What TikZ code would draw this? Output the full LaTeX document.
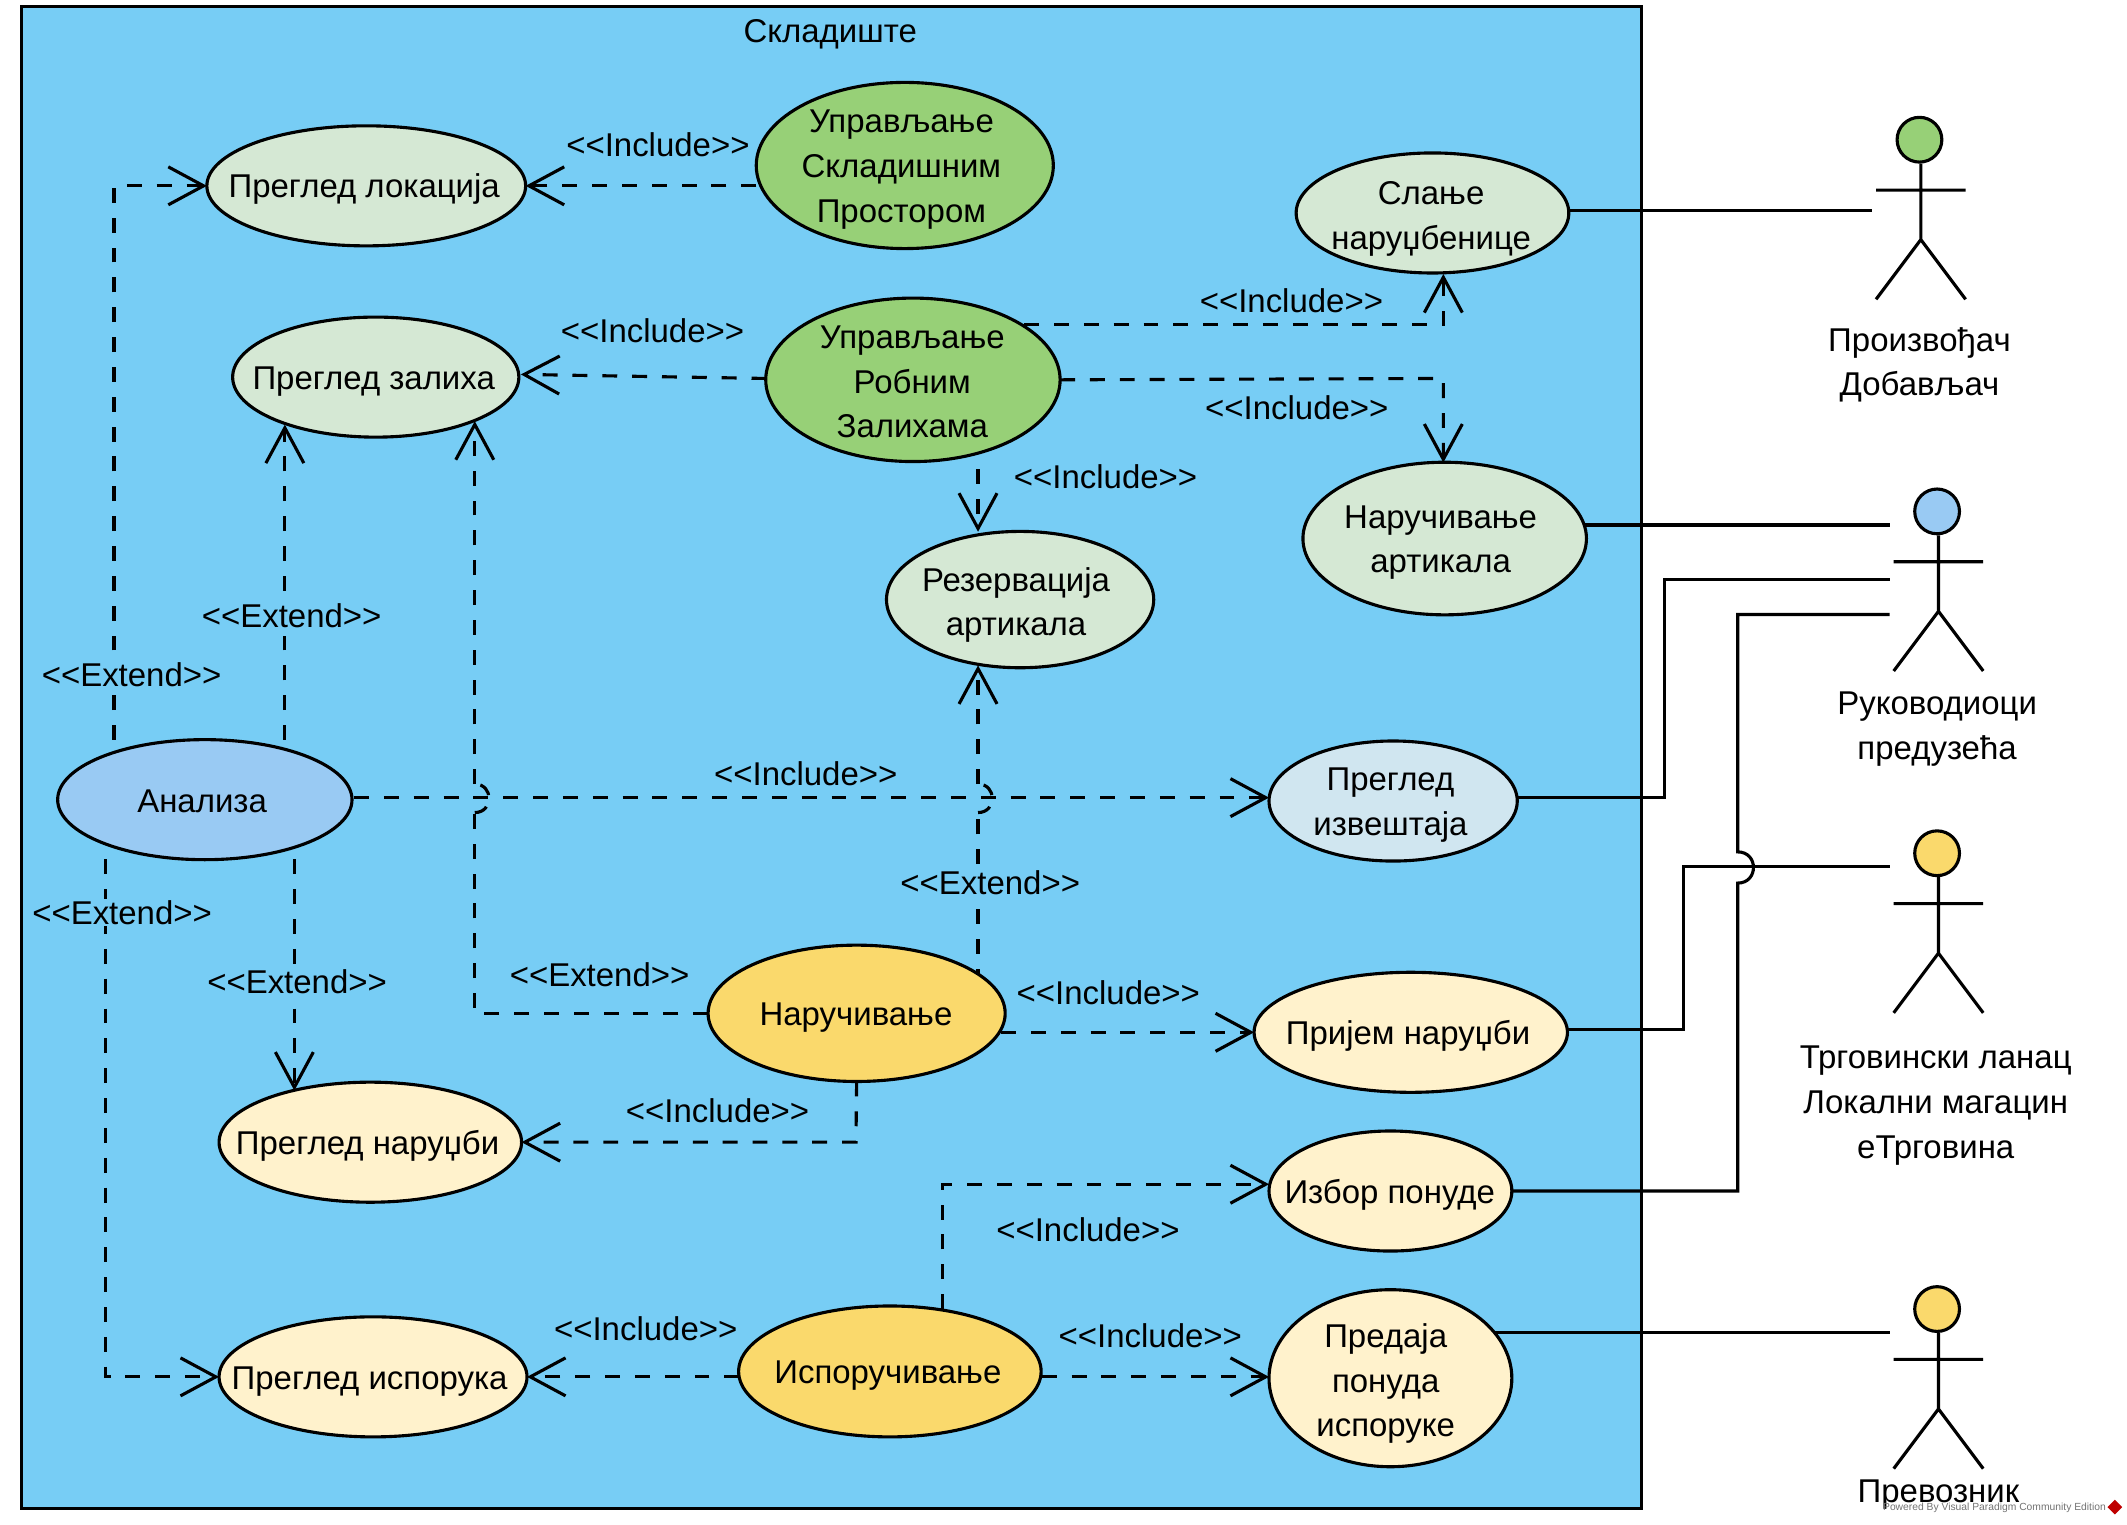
\documentclass[tikz,border=0pt]{standalone}
\usepackage{fontspec}
\setmainfont{Liberation Sans}
\usetikzlibrary{arrows.meta,shapes.geometric,calc}
\pgfdeclarelayer{back}
\pgfdeclarelayer{conn}
\pgfsetlayers{back,conn,main}
\definecolor{contbg}{HTML}{77CDF5}
\definecolor{cgreenL}{HTML}{D5E8D4}
\definecolor{cgreen}{HTML}{97D077}
\definecolor{cblue}{HTML}{99CAF3}
\definecolor{cblueL}{HTML}{D0E6F0}
\definecolor{cyel}{HTML}{FAD96C}
\definecolor{ccream}{HTML}{FFF2CC}
\tikzset{
  x=1pt,y=-1pt,
  base/.style={line width=2.3pt,black},
  dash1/.style={dash pattern=on 11pt off 11pt},
  dep/.style={base,dash1,-{Straight Barb[length=26pt,width=28pt,line width=2.3pt]}},
  depn/.style={base,dash1},
  jump/.style={base,dash pattern=on 10pt off 9pt on 10pt off 9pt},
  assoc/.style={base},
  ucshape/.style={draw=black,line width=2.3pt,ellipse,inner sep=0pt,outer sep=0pt},
  uctext/.style={font=\fontsize{24.3}{33}\selectfont,align=center,inner sep=0pt,text=black},
  lab/.style={font=\fontsize{24.3}{30}\selectfont,fill=contbg,inner sep=1pt,text=black,yshift=-0.7pt},
  head/.style={draw=black,line width=2.3pt,circle,inner sep=0pt,minimum size=33pt},
  wm/.style={font=\fontsize{7.6}{9}\selectfont,text=black!55,inner sep=0pt},
}
\newcommand{\usecase}[9]{%
  \node[ucshape,fill=#6,minimum width=#4*2pt-1pt,minimum height=#5*2pt-1.5pt] (#1) at (#2,#3) {};
  \node[uctext] (#1t) at (#7,#8) {#9};}
\newcommand{\stickman}[4]{% name, x (head), y (head), colour
  \node[head,fill=#4] (#1) at (#2,#3) {};
  \draw[assoc] (#1.south) ++(1,0) coordinate (#1n) -- ++(0,56) coordinate (#1h)
     -- ++(-33,44) (#1h) -- ++(33,44)
     (#1n) ++(-33,19.5) -- ++(66,0);}
\newcommand{\Inc}{<{}<Include>{}>}
\newcommand{\Ext}{<{}<Extend>{}>}
\begin{document}
\begin{tikzpicture}
\useasboundingbox (0,0) rectangle (1568,1123.5);
\begin{pgfonlayer}{back}
\node[draw=black,line width=2.3pt,fill=contbg,inner sep=0pt,minimum width=1194pt,minimum height=1107pt] (cont) at (613,558.5) {};
\end{pgfonlayer}
\node[uctext] (ctitle) at (612,25) {Складиште};

% use cases
\usecase{lok}{270}{137}{118}{45}{cgreenL}{268.5}{139}{Преглед локација}
\usecase{ups}{667}{122}{110}{62}{cgreen}{664.5}{125}{Управљање\\Складишним\\Простором}
\usecase{sla}{1056}{157}{101}{45}{cgreenL}{1055}{161.5}{Слање\\наруџбенице}
\usecase{zal}{277}{278}{106}{45}{cgreenL}{275.5}{281}{Преглед залиха}
\usecase{upr}{673}{280}{109}{61}{cgreen}{672.5}{281.5}{Управљање\\Робним\\Залихама}
\usecase{nar}{1065}{397}{105}{57}{cgreenL}{1062}{400}{Наручивање\\артикала}
\usecase{rez}{752}{442}{99}{51}{cgreenL}{749}{446}{Резервација\\артикала}
\usecase{ana}{151}{589.5}{109}{45}{cblue}{149}{591}{Анализа}
\usecase{izv}{1027}{590.5}{92}{45}{cblueL}{1025}{593.5}{Преглед\\извештаја}
\usecase{nrc}{631.5}{747}{110}{51}{cyel}{631}{750}{Наручивање}
\usecase{pri}{1040}{761}{116}{45}{ccream}{1038}{763.5}{Пријем наруџби}
\usecase{prn}{273}{842}{112}{45}{ccream}{271}{845}{Преглед наруџби}
\usecase{izb}{1025}{878}{90}{45}{ccream}{1024.5}{881}{Избор понуде}
\usecase{pis}{275}{1015}{114}{45}{ccream}{272.5}{1018.5}{Преглед испорука}
\usecase{isp}{656}{1011}{112}{49}{cyel}{654.5}{1014}{Испоручивање}
\usecase{pre}{1025}{1016}{90}{66}{ccream}{1021.5}{1020}{Предаја\\понуда\\испоруке}

% actors
\stickman{a1}{1415}{103}{cgreen}
\stickman{a2}{1428}{377}{cblue}
\stickman{a3}{1428}{629}{cyel}
\stickman{a4}{1428}{965}{cyel}
\node[uctext] (a1t) at (1415,269) {Произвођач\\Добављач};
\node[uctext] (a2t) at (1428,537.5) {Руководиоци\\предузећа};
\node[uctext] (a3t) at (1427,815) {Трговински ланац\\Локални магацин\\еТрговина};
\node[uctext] (a4t) at (1429,1102) {Превозник};

% routing coordinates
\coordinate (k1) at (84,137);
\coordinate (k2) at (210,313);
\coordinate (k3) at (217,804);
\coordinate (k4) at (78,1015);
\coordinate (k5s) at (755,239);
\coordinate (k5) at (1064,239);
\coordinate (k5t) at (1064,202);
\coordinate (k6) at (1064,279);
\coordinate (k6t) at (1064,341);
\coordinate (k7) at (721,392);
\coordinate (k8t) at (721,490.5);
\coordinate (k8a) at (721,599);
\coordinate (k8b) at (721,578);
\coordinate (k9) at (350,747);
\coordinate (k9a) at (350,599);
\coordinate (k9b) at (350,578);
\coordinate (k9t) at (350,310.5);
\coordinate (k10) at (261,588);
\coordinate (k13) at (738,761);
\coordinate (k14) at (631,842);
\coordinate (k15) at (695,873);
\coordinate (k15s) at (695,965);
\coordinate (k16) at (545,1015);
\coordinate (k17) at (768,1015);
\coordinate (k4s) at (565,279);
\coordinate (k4t) at (384,276);
\coordinate (p1) at (1380,155);
\coordinate (p2) at (1393,387);
\coordinate (p3) at (1393,427);
\coordinate (p3a) at (1227,588);
\coordinate (p4) at (1393,453);
\coordinate (p4a) at (1281,878);
\coordinate (p4b) at (1281,651);
\coordinate (p4c) at (1281,628);
\coordinate (p5) at (1393,639);
\coordinate (p5a) at (1241,759);
\coordinate (p6) at (1393,982);

\begin{pgfonlayer}{conn}
% dependencies
\draw[dep] (k1 |- ana) -- (k1) -- (lok.west);
\draw[dep] (k2 |- ana) -- (k2);
\draw[dep] (k3 |- ana) -- (k3);
\draw[dep] (k4 |- ana) -- (k4) -- (pis.west);
\draw[dep] (ups.west |- lok) -- (lok.east);
\draw[dep] (k4s) -- (k4t);
\draw[dep] (k5s) -- (k5) -- (k5t);
\draw[dep] (upr.east) -- (k6) -- (k6t);
\draw[dep] (k7 |- upr) -- (k7);
\draw[depn] (k8a |- nrc) -- (k8a);
\draw[jump] (k8a) .. controls (735,599) and (735,578) .. (k8b);
\draw[dep] (k8b) -- (k8t);
\draw[depn] (nrc.west) -- (k9) -- (k9a);
\draw[jump] (k9a) .. controls (364,599) and (364,578) .. (k9b);
\draw[dep] (k9b) -- (k9t);
\draw[dep] (k10) -- (izv.west |- k10);
\draw[dep] (k13) -- (pri.west |- k13);
\draw[dep] (nrc.south) -- (k14) -- (prn.east |- k14);
\draw[dep] (k15s) -- (k15) -- (izb.west |- k15);
\draw[dep] (k16) -- (pis.east |- k16);
\draw[dep] (k17) -- (pre.west |- k17);
% actor associations
\draw[assoc] (sla.east |- p1) -- (p1);
\draw[assoc] (nar.center |- p2) -- (p2);
\draw[assoc] (izv.east |- p3a) -- (p3a) -- (p3a |- p3) -- (p3);
\draw[assoc] (izb.east) -- (p4a) -- (p4b) .. controls (1296.5,651) and (1296.5,628) .. (p4c) -- (p4 -| p4c) -- (p4);
\draw[assoc] (pri.center |- p5a) -- (p5a) -- (p5a |- p5) -- (p5);
\draw[assoc] (pre.center |- p6) -- (p6);
\end{pgfonlayer}

% connector labels
\node[lab] (l1) at (485,106) {\Inc};
\node[lab] (l2) at (481,243) {\Inc};
\node[lab] (l3) at (952,221) {\Inc};
\node[lab] (l4) at (956,300) {\Inc};
\node[lab] (l5) at (815,351) {\Inc};
\node[lab] (l6) at (215,453) {\Ext};
\node[lab] (l7) at (97,497) {\Ext};
\node[lab] (l8) at (594,570) {\Inc};
\node[lab] (l9) at (730,650) {\Ext};
\node[lab] (l10) at (90,672) {\Ext};
\node[lab] (l11) at (219,723) {\Ext};
\node[lab] (l12) at (442,718) {\Ext};
\node[lab] (l13) at (817,731) {\Inc};
\node[lab] (l14) at (529,818) {\Inc};
\node[lab] (l15) at (802,906) {\Inc};
\node[lab] (l16) at (476,979) {\Inc};
\node[lab] (l17) at (848,984) {\Inc};

% watermark
\node[wm,anchor=west] (wmt) at (1388,1111.5) {Powered By Visual Paradigm Community Edition};
\node[diamond,fill=red!75!black,inner sep=0pt,minimum size=11pt] (wmi) at (1559,1111) {};
\end{tikzpicture}
\end{document}
